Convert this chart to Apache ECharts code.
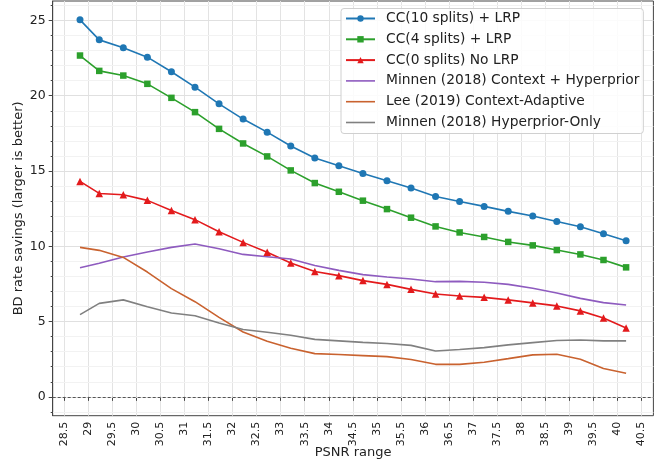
<!DOCTYPE html>
<html>
<head>
<meta charset="utf-8">
<script src="https://cdn.jsdelivr.net/npm/echarts@6/dist/echarts.min.js"></script>
<style>
html,body{margin:0;padding:0;background:#fff;}
#chart{width:656px;height:461px;}
</style>
</head>
<body>
<div id="chart"></div>
<script>
// PSNR positions of the samples
const psnr = [28.83, 29.23, 29.73, 30.23, 30.73, 31.22, 31.72, 32.22, 32.72, 33.21, 33.71, 34.21,
              34.71, 35.21, 35.71, 36.22, 36.72, 37.23, 37.73, 38.24, 38.74, 39.23, 39.71, 40.18];

const cc10 = [25.04, 23.71, 23.18, 22.56, 21.59, 20.57, 19.46, 18.45, 17.58, 16.66, 15.86, 15.35,
              14.84, 14.35, 13.87, 13.31, 12.98, 12.65, 12.32, 12.01, 11.65, 11.30, 10.84, 10.37];
const cc4  = [22.67, 21.65, 21.34, 20.79, 19.86, 18.91, 17.80, 16.83, 15.97, 15.04, 14.20, 13.62,
              13.03, 12.47, 11.90, 11.32, 10.92, 10.62, 10.29, 10.06, 9.75, 9.46, 9.09, 8.60];
const cc0  = [14.31, 13.51, 13.42, 13.05, 12.38, 11.77, 10.97, 10.26, 9.60, 8.89, 8.33, 8.05,
              7.72, 7.47, 7.14, 6.83, 6.70, 6.61, 6.44, 6.24, 6.04, 5.71, 5.24, 4.58];
const minnenCtx = [8.58, 8.87, 9.29, 9.62, 9.93, 10.15, 9.84, 9.46, 9.31, 9.16, 8.73, 8.40,
                   8.12, 7.96, 7.83, 7.65, 7.67, 7.61, 7.47, 7.21, 6.90, 6.54, 6.26, 6.10];
const lee = [9.93, 9.73, 9.26, 8.29, 7.19, 6.32, 5.28, 4.31, 3.69, 3.23, 2.87, 2.81,
             2.74, 2.67, 2.48, 2.16, 2.16, 2.30, 2.54, 2.79, 2.83, 2.50, 1.88, 1.57];
const minnenHyp = [5.46, 6.21, 6.44, 5.99, 5.57, 5.39, 4.91, 4.47, 4.29, 4.09, 3.82, 3.72,
                   3.62, 3.54, 3.42, 3.05, 3.14, 3.27, 3.45, 3.60, 3.74, 3.78, 3.72, 3.72];

const seriesNames = ['CC(10 splits) + LRP', 'CC(4 splits) + LRP', 'CC(0 splits) No LRP',
                     'Minnen (2018) Context + Hyperprior', 'Lee (2019) Context-Adaptive',
                     'Minnen (2018) Hyperprior-Only'];

const xTicks = [28.5, 29, 29.5, 30, 30.5, 31, 31.5, 32, 32.5, 33, 33.5, 34, 34.5,
                35, 35.5, 36, 36.5, 37, 37.5, 38, 38.5, 39, 39.5, 40, 40.5];
const yTicks = [0, 5, 10, 15, 20, 25];
const yMinorTicks = [-1, 1, 2, 3, 4, 6, 7, 8, 9, 11, 12, 13, 14, 16, 17, 18, 19, 21, 22, 23, 24, 26];

// matplotlib-like 5% margins
const xr = psnr[psnr.length - 1] - psnr[0];
const xMin = psnr[0] - 0.05 * xr, xMax = psnr[psnr.length - 1] + 0.05 * xr;
const yHi = Math.max(...cc10), yLo = 0;
const yMin = yLo - 0.05 * (yHi - yLo), yMax = yHi + 0.05 * (yHi - yLo);

const FONT = 'DejaVu Sans';
const pair = arr => psnr.map((x, i) => [x, arr[i]]);

function lineSeries(name, data, color, symbol, size) {
  return {
    name, type: 'line', data: pair(data), xAxisIndex: 0, yAxisIndex: 0,
    symbol: symbol || 'none', symbolSize: size || 0, showSymbol: !!symbol,
    lineStyle: { color, width: 1.6 },
    itemStyle: { color, borderWidth: 0 },
    emphasis: { disabled: true },
    z: 3
  };
}

const series = [
  lineSeries(seriesNames[0], cc10, '#1f77b4', 'circle', 7),
  lineSeries(seriesNames[1], cc4, '#2ca02c', 'rect', 6.5),
  lineSeries(seriesNames[2], cc0, '#e31a1c', 'triangle', 7.5),
  lineSeries(seriesNames[3], minnenCtx, '#8e5bbf'),
  lineSeries(seriesNames[4], lee, '#c9622f'),
  lineSeries(seriesNames[5], minnenHyp, '#808080')
];
series[0].markLine = {
  silent: true, symbol: 'none', label: { show: false },
  lineStyle: { color: '#555', type: [3, 2], width: 1.1 },
  data: [{ yAxis: 0 }]
};

const plainLineIcon = 'path://M0,0 H29 V1.6 H0 Z';
const legendData = seriesNames.map((n, i) => i < 3 ? { name: n } : { name: n, icon: plainLineIcon });

const chart = echarts.init(document.getElementById('chart'), null, { renderer: 'canvas' });
chart.setOption({
  animation: false,
  backgroundColor: '#fff',
  textStyle: { fontFamily: FONT },
  grid: { left: 52.7, right: 2.6, top: 1, bottom: 45.3, containLabel: false, outerBoundsMode: 'none',
          show: true, borderColor: '#444', borderWidth: 1, backgroundColor: 'transparent' },
  legend: {
    orient: 'vertical', left: 341, top: 8.5,
    padding: [3, 4, 4, 4], itemGap: 6.8, itemWidth: 29, itemHeight: 8,
    backgroundColor: 'rgba(255,255,255,0.85)', borderColor: '#d0d0d0', borderWidth: 1, borderRadius: 3,
    textStyle: { fontFamily: FONT, fontSize: 13.8, color: '#222', padding: [0, 0, 0, 6], height: 14, lineHeight: 14 },
    data: legendData
  },
  xAxis: [{
    type: 'value', min: xMin, max: xMax,
    name: 'PSNR range', nameLocation: 'middle', nameGap: 30, nameMoveOverlap: false,
    nameTextStyle: { fontFamily: FONT, fontSize: 13, color: '#222' },
    axisLine: { show: true, lineStyle: { color: '#444' } },
    axisTick: { show: true, length: 4, customValues: xTicks, lineStyle: { color: '#444' } },
    axisLabel: { customValues: xTicks, rotate: 90, fontSize: 11, color: '#222', fontFamily: FONT, margin: 6,
                 formatter: v => String(v) },
    splitLine: { show: true, lineStyle: { color: '#e3e3e3', width: 1 } }
  }],
  yAxis: [{
    type: 'value', min: yMin, max: yMax,
    name: 'BD rate savings (larger is better)', nameLocation: 'middle', nameGap: 28, nameMoveOverlap: false,
    nameTextStyle: { fontFamily: FONT, fontSize: 13, color: '#222' },
    axisLine: { show: true, lineStyle: { color: '#444' } },
    axisTick: { show: true, length: 4, customValues: yTicks, lineStyle: { color: '#444' } },
    axisLabel: { customValues: yTicks, fontSize: 12.5, color: '#222', fontFamily: FONT, margin: 7 },
    splitLine: { show: true, lineStyle: { color: '#e0e0e0', width: 1 } },
    z: 2
  }, {
    type: 'value', min: yMin, max: yMax, position: 'left',
    axisLine: { show: false },
    axisTick: { show: true, length: 2, customValues: yMinorTicks, lineStyle: { color: '#444' } },
    axisLabel: { show: false, customValues: yMinorTicks },
    splitLine: { show: true, lineStyle: { color: '#f2f2f2', width: 1 } },
    z: 1
  }],
  series
});
</script>
</body>
</html>
